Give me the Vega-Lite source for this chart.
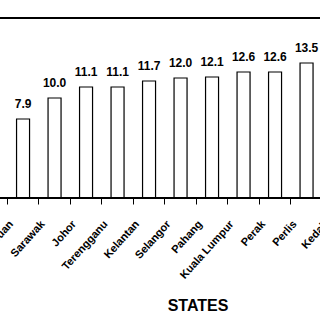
{
  "$schema": "https://vega.github.io/schema/vega-lite/v6.json",
  "width": 320,
  "height": 180,
  "autosize": {"type": "none"},
  "padding": {"left": 0, "right": 0, "top": 18, "bottom": 122},
  "background": "white",
  "config": {
    "view": {"stroke": null},
    "font": "Liberation Sans"
  },
  "data": {
    "values": [
      {"state": "Labuan", "value": 7.9},
      {"state": "Sarawak", "value": 10.0},
      {"state": "Johor", "value": 11.1},
      {"state": "Terengganu", "value": 11.1},
      {"state": "Kelantan", "value": 11.7},
      {"state": "Selangor", "value": 12.0},
      {"state": "Pahang", "value": 12.1},
      {"state": "Kuala Lumpur", "value": 12.6},
      {"state": "Perak", "value": 12.6},
      {"state": "Perlis", "value": 13.5}
    ]
  },
  "layer": [
    {
      "mark": {"type": "bar", "width": 13, "fill": "white", "stroke": "black", "strokeWidth": 1.2},
      "encoding": {
        "x": {
          "field": "state",
          "type": "nominal",
          "sort": null,
          "scale": {
            "domain": ["Labuan", "Sarawak", "Johor", "Terengganu", "Kelantan", "Selangor", "Pahang", "Kuala Lumpur", "Perak", "Perlis", "Kedah"],
            "range": [7.3, 353.8],
            "paddingInner": 0,
            "paddingOuter": 0
          },
          "axis": {
            "title": "STATES",
            "titleFont": "Liberation Sans",
            "titleFontSize": 16,
            "titleFontWeight": "bold",
            "titleColor": "black",
            "titleX": 197.5,
            "titleY": 112,
            "titleBaseline": "alphabetic",
            "titleAlign": "center",
            "domain": false,
            "grid": false,
            "bandPosition": 0,
            "ticks": true,
            "tickSize": 6,
            "tickColor": "black",
            "tickWidth": 1,
            "labelAngle": -48,
            "labelAlign": "right",
            "labelBaseline": "top",
            "labelOffset": -16,
            "labelPadding": 14,
            "labelFont": "Liberation Sans",
            "labelFontSize": 11,
            "labelFontWeight": "bold",
            "labelColor": "black",
            "labelOverlap": false,
            "labelBound": false,
            "labelFlush": false
          }
        },
        "y": {
          "field": "value",
          "type": "quantitative",
          "scale": {"domain": [0, 18], "nice": false},
          "axis": null
        }
      }
    },
    {
      "mark": {"type": "text", "dy": -11, "baseline": "alphabetic", "font": "Liberation Sans", "fontSize": 12, "fontWeight": "bold", "color": "black"},
      "encoding": {
        "x": {"field": "state", "type": "nominal", "sort": null},
        "y": {"field": "value", "type": "quantitative"},
        "text": {"field": "value", "type": "quantitative", "format": ".1f"}
      }
    },
    {
      "mark": {"type": "rule", "color": "black", "strokeWidth": 1},
      "encoding": {"y": {"datum": 0}}
    },
    {
      "mark": {"type": "rule", "color": "black", "strokeWidth": 1.5},
      "encoding": {"y": {"datum": 18}}
    }
  ]
}
